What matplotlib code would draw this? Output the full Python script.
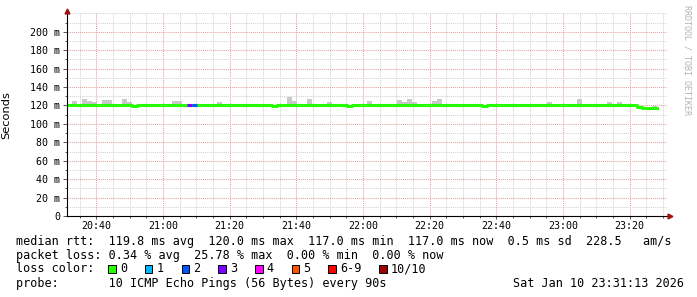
import numpy as np
import matplotlib.pyplot as plt
from matplotlib.patches import Rectangle
from matplotlib.ticker import FixedLocator, MultipleLocator

W, H = 697, 297
MONO = 'DejaVu Sans Mono'

# time in minutes after 20:00, 3 hour window ending 23:31:13, 90 s steps
t_end = 211 + 13 / 60
t_start = t_end - 180
step = 1.5

median_ms = [
    120, 120, 120, 120, 120, 120, 120, 120, 120, 120,
    120, 120, 120, 119, 120, 120, 120, 120, 120, 120,
    120, 120, 120, 120, 120, 120, 120, 120, 120, 120,
    120, 120, 120, 120, 120, 120, 120, 120, 120, 120,
    120, 119, 120, 120, 120, 120, 120, 120, 120, 120,
    120, 120, 120, 120, 120, 120, 119, 120, 120, 120,
    120, 120, 120, 120, 120, 120, 120, 120, 120, 120,
    120, 120, 120, 120, 120, 120, 120, 120, 120, 120,
    120, 120, 120, 119, 120, 120, 120, 120, 120, 120,
    120, 120, 120, 120, 120, 120, 120, 120, 120, 120,
    120, 120, 120, 120, 120, 120, 120, 120, 120, 120,
    120, 120, 120, 120, 118, 117, 117, 117,
]
smoke_max_ms = [
    120, 124.6, 122, 127, 125, 123.5, 122, 126, 126, 120,
    120, 127, 124, 119, 120, 122, 120, 120, 120, 120,
    120, 124.5, 124.5, 120, 120, 120, 122, 120, 120, 120,
    124, 122, 120, 120, 120, 120, 120, 120, 120, 120,
    120, 119, 120, 121, 129, 125, 120, 122, 127, 122,
    120, 122, 124, 120, 120, 120, 119, 120, 120, 120,
    125, 122, 120, 120, 122, 120, 126, 124, 127, 124,
    122, 120, 122, 125, 127, 122, 120, 120, 120, 120,
    120, 120, 120, 119, 122, 120, 120, 120, 120, 122,
    120, 120, 120, 120, 120, 120, 124, 122, 120, 120,
    120, 120, 127, 122, 120, 120, 120, 122, 124, 120,
    124, 122, 122, 120, 118, 117, 117, 119,
]
loss_pings = [0] * 24 + [3, 2] + [0] * 92

loss_labels = ['0', '1', '2', '3', '4', '5', '6-9', '10/10']
loss_colors = ['#26ff00', '#00b8ff', '#0059ff', '#7e00ff',
               '#ff00ff', '#ff5500', '#ff0000', '#a10000']

xtick_minutes = [40, 60, 80, 100, 120, 140, 160, 180, 200]
xtick_labels = ['20:40', '21:00', '21:20', '21:40', '22:00',
                '22:20', '22:40', '23:00', '23:20']
ytick_ms = [0, 20, 40, 60, 80, 100, 120, 140, 160, 180, 200]
ytick_labels = ['0', '20 m', '40 m', '60 m', '80 m', '100 m',
                '120 m', '140 m', '160 m', '180 m', '200 m']

rtt_line = ('median rtt:  119.8 ms avg  120.0 ms max  117.0 ms min  '
            '117.0 ms now  0.5 ms sd  228.5   am/s')
loss_line = 'packet loss: 0.34 % avg  25.78 % max  0.00 % min  0.00 % now'
probe_line = 'probe:       10 ICMP Echo Pings (56 Bytes) every 90s'
date_text = 'Sat Jan 10 23:31:13 2026'

fig = plt.figure(figsize=(W / 100, H / 100), dpi=100)
ax = fig.add_axes([67 / W, (H - 216) / H, 600 / W, 202.6 / H])

t = t_start + step * np.arange(len(median_ms))
med = np.array(median_ms) / 1000
top = np.array(smoke_max_ms) / 1000

# smoke
ax.bar(t, top - med, width=step, bottom=med, align='edge',
       color='#c8c8c8', lw=0, zorder=2)
# median line coloured by loss
ax.step(np.append(t, t[-1] + step), np.append(med, med[-1]), where='post',
        color=loss_colors[0], lw=2.2, zorder=3)
for i, n in enumerate(loss_pings):
    if n > 0:
        ci = n if n <= 5 else (6 if n < 10 else 7)
        ax.hlines(med[i], t[i], t[i] + step, color=loss_colors[ci],
                  lw=2.2, zorder=4, capstyle='butt')

ax.set_xlim(t_start, t_end)
ax.set_ylim(0, 0.22)
ax.xaxis.set_major_locator(FixedLocator(xtick_minutes))
ax.set_xticklabels(xtick_labels)
ax.xaxis.set_minor_locator(MultipleLocator(5))
ax.yaxis.set_major_locator(FixedLocator([v / 1000 for v in ytick_ms]))
ax.set_yticklabels(ytick_labels)
ax.yaxis.set_minor_locator(MultipleLocator(0.01))
ax.set_axisbelow(True)
ax.grid(which='minor', color='#d2d2d2', ls=(0, (1, 1)), lw=0.75)
ax.grid(which='major', color='#e8a0a0', ls=(0, (1, 1)), lw=0.75)

for s in ax.spines.values():
    s.set_visible(False)
ax.plot([0, 1.004], [0, 0], transform=ax.transAxes, clip_on=False,
        color='black', lw=0.8, zorder=5)
ax.plot([0, 0], [0, 1.01], transform=ax.transAxes, clip_on=False,
        color='black', lw=0.8, zorder=5)
ax.plot(1.0058, 0, marker='>', ms=3.5, color='#a01010',
        transform=ax.transAxes, clip_on=False, zorder=6)
ax.plot(0, 1.0143, marker='^', ms=3.5, color='#a01010',
        transform=ax.transAxes, clip_on=False, zorder=6)

ax.tick_params(which='both', direction='out', color='#555555', width=0.7,
               labelsize=7.2, labelcolor='black')
ax.tick_params(axis='y', which='major', length=3, pad=2)
ax.tick_params(axis='y', which='minor', length=1.5)
ax.tick_params(axis='x', which='major', length=2, pad=1.5)
ax.tick_params(axis='x', which='minor', length=1.5)
for lab in ax.get_xticklabels() + ax.get_yticklabels():
    lab.set_family(MONO)

ax.set_ylabel('Seconds', fontsize=8.2, family='DejaVu Sans', labelpad=4)
ax.yaxis.set_label_coords(-56 / 600, 0.5)

fig.text(687 / W, 1 - 5 / H, 'RRDTOOL / TOBI OETIKER', rotation=270,
         ha='center', va='top', fontsize=6, family=MONO, color='#b4b4b4')

# legend block
fs = 8.5
fig.text(16 / W, 1 - 244.5 / H, rtt_line, family=MONO, fontsize=fs, va='baseline')
fig.text(16 / W, 1 - 258.7 / H, loss_line, family=MONO, fontsize=fs, va='baseline')
fig.text(16 / W, 1 - 272.5 / H, 'loss color:', family=MONO, fontsize=fs, va='baseline')
bx = 108.3
for lab, col in zip(loss_labels, loss_colors):
    fig.patches.append(Rectangle((bx / W, 1 - 272.7 / H), 7.5 / W, 7.5 / H,
                                 transform=fig.transFigure, facecolor=col,
                                 edgecolor='black', lw=0.7))
    fig.text((bx + 11.7) / W, 1 - 272.5 / H, lab, family=MONO, fontsize=fs,
             va='baseline')
    bx += 11.7 + 7.09 * len(lab) + 17.9
fig.text(16 / W, 1 - 287 / H, probe_line, family=MONO, fontsize=fs, va='baseline')
fig.text(513.3 / W, 1 - 287 / H, date_text, family=MONO, fontsize=fs, va='baseline')

fig.savefig('out.png', dpi=100, facecolor='white')
